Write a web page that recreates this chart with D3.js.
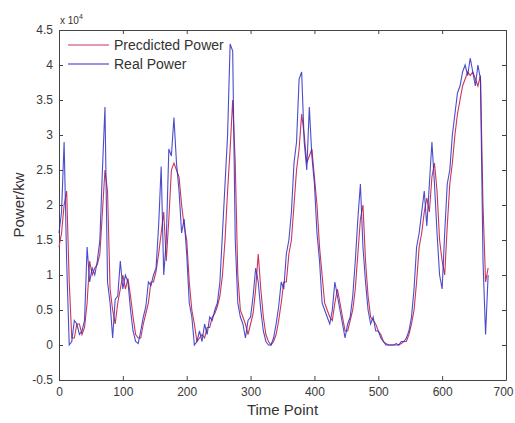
<!DOCTYPE html>
<html><head><meta charset="utf-8">
<script src="https://cdn.jsdelivr.net/npm/d3@7"></script>
<style>body{margin:0;background:#fff}</style>
</head><body>
<script>
// Time points (step 4)
const timePoints = d3.range(0, 673, 4);
// Real power (×10^4 kW)
const realPower = [1.6,1.9,2.9,1.2,0.0,0.05,0.35,0.3,0.15,0.2,0.35,1.4,0.9,1.1,1.0,1.2,1.5,2.5,3.4,0.9,0.6,0.1,0.65,0.7,1.2,0.8,1.0,0.9,0.5,0.2,0.05,0.02,0.2,0.4,0.55,0.9,0.85,1.0,1.1,1.7,2.55,1.0,1.5,2.8,2.7,3.25,2.6,2.2,1.6,1.8,1.3,0.6,0.4,0.0,0.05,0.2,0.05,0.3,0.15,0.4,0.35,0.5,0.6,0.9,1.6,2.3,3.0,4.3,4.2,1.5,0.6,0.4,0.3,0.1,0.35,0.4,0.7,1.1,0.9,0.5,0.2,0.05,0.0,0.0,0.1,0.3,0.55,0.9,0.8,1.3,1.5,1.9,2.6,2.9,3.8,3.9,2.9,2.5,3.4,2.7,2.3,1.6,1.2,0.6,0.5,0.4,0.3,0.5,0.9,0.7,0.5,0.3,0.1,0.3,0.4,0.7,1.2,1.8,2.3,1.4,0.9,0.5,0.3,0.4,0.2,0.2,0.1,0.05,0.0,0.0,0.0,0.0,0.02,0.0,0.05,0.05,0.1,0.2,0.4,0.8,1.4,1.6,1.9,2.2,1.7,2.3,2.9,2.3,1.6,1.0,0.8,1.6,2.3,2.5,3.0,3.3,3.6,3.7,3.9,4.0,3.85,4.1,3.9,3.7,4.0,3.8,1.2,0.15,1.0];
// Predicted power (×10^4 kW)
const predictedPower = [1.4,1.6,2.0,2.2,0.9,0.1,0.1,0.3,0.3,0.15,0.25,0.6,1.2,1.0,1.1,1.15,1.3,1.9,2.5,2.2,0.8,0.5,0.3,0.6,0.8,1.0,0.8,0.95,0.7,0.4,0.15,0.1,0.1,0.3,0.45,0.6,0.9,0.9,1.05,1.3,1.6,1.9,1.2,1.8,2.5,2.6,2.5,2.4,2.0,1.7,1.5,0.9,0.5,0.3,0.05,0.1,0.15,0.1,0.25,0.25,0.4,0.45,0.55,0.7,1.0,1.5,2.2,2.8,3.5,2.6,1.0,0.5,0.4,0.3,0.15,0.3,0.45,0.8,1.3,0.8,0.4,0.15,0.05,0.0,0.05,0.15,0.35,0.6,0.9,0.9,1.3,1.5,2.0,2.5,2.8,3.3,3.0,2.6,2.7,2.8,2.4,2.0,1.4,1.0,0.6,0.5,0.4,0.35,0.6,0.8,0.6,0.4,0.2,0.2,0.35,0.5,0.8,1.3,1.8,2.0,1.2,0.7,0.4,0.35,0.3,0.2,0.15,0.05,0.02,0.0,0.0,0.0,0.0,0.0,0.02,0.05,0.05,0.15,0.3,0.5,0.9,1.4,1.6,1.9,2.1,1.9,2.4,2.6,2.2,1.5,1.2,1.0,1.7,2.3,2.6,3.0,3.3,3.5,3.7,3.8,3.9,3.85,3.9,3.8,3.7,3.85,2.0,0.9,1.1];
const xTicks = [0,100,200,300,400,500,600,700];
const yTicks = [-0.5,0,0.5,1,1.5,2,2.5,3,3.5,4,4.5];
const seriesNames = ["Precdicted Power","Real Power"];
const seriesColors = ["#c8365a","#2b2bc4"];

const W=515,H=423;
const m={l:59,r:9,t:30,b:43};
const svg=d3.select("body").append("svg").attr("width",W).attr("height",H)
  .style("font-family","Arial, 'Liberation Sans', sans-serif");
const x=d3.scaleLinear().domain([0,700]).range([m.l,W-m.r]);
const y=d3.scaleLinear().domain([-0.5,4.5]).range([H-m.b,m.t]);

const g=svg.append("g");
const fmt=d=>String(d);
const tickCol="#3a3a3a";
// axes
const xb=g.append("g").attr("transform",`translate(0,${H-m.b})`)
  .call(d3.axisBottom(x).tickValues(xTicks).tickFormat(fmt).tickSizeInner(-4).tickSizeOuter(0).tickPadding(7));
xb.selectAll(".tick text").filter(d=>d===700).attr("dx",-3);
g.append("g").attr("transform",`translate(${m.l},0)`)
  .call(d3.axisLeft(y).tickValues(yTicks).tickFormat(fmt).tickSizeInner(-4).tickSizeOuter(0).tickPadding(6));
g.append("g").attr("transform",`translate(0,${m.t})`)
  .call(d3.axisTop(x).tickValues(xTicks).tickFormat("").tickSizeInner(-4).tickSizeOuter(0));
g.append("g").attr("transform",`translate(${W-m.r},0)`)
  .call(d3.axisRight(y).tickValues(yTicks).tickFormat("").tickSizeInner(-4).tickSizeOuter(0));
g.selectAll(".domain").attr("stroke","#444");
g.selectAll(".tick line").attr("stroke","#444");
g.selectAll(".tick text").attr("fill",tickCol).style("font-size","12px");

const line=d3.line().x((d,i)=>x(timePoints[i])).y(d=>y(d));
svg.append("path").datum(predictedPower).attr("d",line).attr("fill","none")
  .attr("stroke",seriesColors[0]).attr("stroke-width",1.1);
svg.append("path").datum(realPower).attr("d",line).attr("fill","none")
  .attr("stroke",seriesColors[1]).attr("stroke-width",1.1).attr("stroke-opacity",0.85);

// legend
const lg=svg.append("g");
seriesNames.forEach((n,i)=>{
  const yy=45+i*19;
  lg.append("line").attr("x1",68).attr("x2",109).attr("y1",yy).attr("y2",yy)
    .attr("stroke",seriesColors[i]).attr("stroke-width",1.2);
  lg.append("text").attr("x",114).attr("y",yy+5).text(n)
    .style("font-size","14px").attr("fill","#333");
});

// labels
svg.append("text").attr("x",x(350)).attr("y",415).attr("text-anchor","middle")
  .text("Time Point").style("font-size","15px").attr("fill","#333");
svg.append("text").attr("transform",`translate(24,${(m.t+H-m.b)/2}) rotate(-90)`)
  .attr("text-anchor","middle").text("Power/kw").style("font-size","15px").attr("fill","#333");
const ex=svg.append("text").attr("x",60).attr("y",24).style("font-size","10px").attr("fill","#333");
ex.append("tspan").text("x 10");
ex.append("tspan").attr("dy",-5).style("font-size","7px").text("4");
</script>
</body></html>
